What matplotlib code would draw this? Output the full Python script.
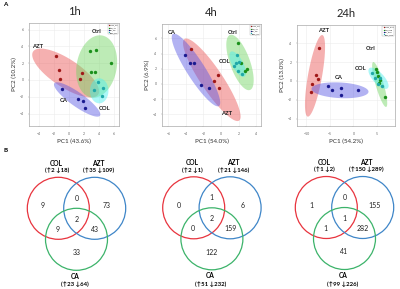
import numpy as np
import matplotlib
matplotlib.use("Agg")
import matplotlib.pyplot as plt

plt.rcParams['font.family'] = ['Lato', 'DejaVu Sans']

W, H = 400, 289

# ---- PCA scores ----
azt_1h = [(-1.73, 2.89), (-1.37, 1.19), (-1.2, 0.15), (1.73, 0.87), (1.43, 0.08)]
ctrl_1h = [(2.8, 3.42), (3.6, 3.57), (5.64, 2.06), (2.97, 0.95), (3.43, 0.95)]
ca_1h = [(-0.97, -1.11), (1.16, -2.26), (1.87, -2.46), (2.13, -3.37)]
col_1h = [(3.83, -0.27), (4.49, -0.95), (4.44, -1.94), (3.29, -1.15)]

azt_4h = [(-3.43, 4.57), (-0.34, 1.18), (-0.77, 0.36), (-0.26, -0.57)]
ctrl_4h = [(1.91, 5.33), (2.29, 2.79), (2.69, 1.67), (2.95, 1.91)]
ca_4h = [(-4.11, 3.82), (-3.58, 2.72), (-3.09, 2.80), (-2.29, -0.13), (-1.34, -0.49)]
col_4h = [(1.86, 3.79), (1.71, 2.79), (1.52, 2.33), (1.94, 1.74), (2.37, 1.32), (2.06, 2.83)]

azt_24h = [(-7.28, 3.48), (-7.91, 0.61), (-7.62, 0.21), (-8.83, -0.32), (-8.94, -1.15)]
ctrl_24h = [(4.72, 1.31), (5.06, 0.94), (5.28, 0.5), (5.57, 0.14), (5.43, -0.24), (6.6, -1.68)]
ca_24h = [(-5.49, -0.55), (-4.64, -1.01), (-2.72, -0.77), (-2.72, -1.49), (0.96, -0.98)]
col_24h = [(3.87, 0.85), (5.11, -0.27), (6.17, -0.53), (5.64, 0.37), (4.47, 0.32)]

# confidence ellipses: centre x, centre y, major half-vector, minor half-vector
ell_azt_1h = (-0.44, 0.83, 4.34, -2.56, -1.03, -1.39)
ell_ctrl_1h = (3.69, 1.61, 0.73, 3.69, 2.63, -0.42)
ell_ca_1h = (1.09, -2.32, 3.04, -1.93, -0.54, -0.68)
ell_col_1h = (4.03, -1.29, 0.0, 1.49, 1.23, 0.0)

ell_azt_4h = (-1.05, 0.55, 3.12, -5.37, -1.04, -0.81)
ell_ctrl_4h = (2.17, 2.83, 1.14, -3.62, -1.07, -0.45)
ell_ca_4h = (-2.86, 1.84, 2.63, -4.74, -0.87, -0.64)
ell_col_4h = (1.91, 2.61, 0.77, -1.64, -0.55, -0.34)

ell_azt_24h = (-8.19, 0.55, 1.55, 4.34, 1.47, -0.13)
ell_ctrl_24h = (5.57, -0.37, 1.38, -2.39, -0.82, -0.12)
ell_ca_24h = (-2.87, -0.99, 6.06, -0.16, -0.09, -0.83)
ell_col_24h = (5.32, 0.29, 1.96, -1.06, -0.86, -0.40)

times = ["1h", "4h", "24h"]
pc1_var = [43.6, 54.0, 54.2]
pc2_var = [10.2, 6.9, 13.0]

groups = ["AZT", "Ctrl", "CA", "COL"]
point_colors = {"AZT": "#a01818", "Ctrl": "#1a901a", "CA": "#1a1a90", "COL": "#20a8a8"}
fill_colors = {"AZT": "#ea5050", "Ctrl": "#6ed45e", "CA": "#5454e4", "COL": "#48eeee"}

# ---- Venn counts: only COL, COL&AZT, only AZT, all, COL&CA, AZT&CA, only CA ----
venn_1h = [9, 0, 73, 2, 9, 43, 33]
venn_4h = [0, 1, 6, 2, 0, 159, 122]
venn_24h = [1, 0, 155, 1, 1, 282, 41]
col_up, col_down = [2, 2, 1], [18, 1, 2]
azt_up, azt_down = [35, 21, 150], [109, 146, 289]
ca_up, ca_down = [23, 51, 99], [64, 232, 226]


def px_axes(fig, x0, y0, x1, y1):
    return fig.add_axes([x0 / W, 1 - y1 / H, (x1 - x0) / W, (y1 - y0) / H])


fig = plt.figure(figsize=(4.0, 2.89), dpi=100)

# ---------------- panel A ----------------
pca_boxes = [(29, 23, 119, 126), (162, 24, 261, 126), (297, 25, 395, 126)]
pca_lims = [((-5.33, 6.67), (-5.48, 6.79)),
            ((-6.74, 4.57), (-5.53, 7.89)),
            ((-12.02, 8.83), (-4.79, 5.96))]
pca_xticks = [[-4, -2, 0, 2, 4, 6], [-6, -4, -2, 0, 2, 4], [-10, -5, 0, 5]]
pca_yticks = [[-4, -2, 0, 2, 4, 6], [-4, -2, 0, 2, 4, 6], [-4, -2, 0, 2, 4]]
pca_scores = [
    {"AZT": azt_1h, "Ctrl": ctrl_1h, "CA": ca_1h, "COL": col_1h},
    {"AZT": azt_4h, "Ctrl": ctrl_4h, "CA": ca_4h, "COL": col_4h},
    {"AZT": azt_24h, "Ctrl": ctrl_24h, "CA": ca_24h, "COL": col_24h},
]
pca_ells = [
    {"AZT": ell_azt_1h, "Ctrl": ell_ctrl_1h, "CA": ell_ca_1h, "COL": ell_col_1h},
    {"AZT": ell_azt_4h, "Ctrl": ell_ctrl_4h, "CA": ell_ca_4h, "COL": ell_col_4h},
    {"AZT": ell_azt_24h, "Ctrl": ell_ctrl_24h, "CA": ell_ca_24h, "COL": ell_col_24h},
]
# where the group names sit
pca_names = [
    {"AZT": (-4.23, 4.05), "Ctrl": (3.69, 5.75), "CA": (-0.63, -2.5), "COL": (4.8, -3.37)},
    {"AZT": (0.65, -3.86), "Ctrl": (1.34, 6.8), "CA": (-5.63, 6.8), "COL": (0.38, 2.93)},
    {"AZT": (-6.43, 5.35), "Ctrl": (3.72, 3.44), "CA": (-3.09, 0.39), "COL": (1.53, 1.31)},
]

t = np.linspace(0, 2 * np.pi, 200)
for i, tm in enumerate(times):
    ax = px_axes(fig, *pca_boxes[i])
    for g in groups:
        cx, cy, ux, uy, vx, vy = pca_ells[i][g]
        ax.fill(cx + ux * np.cos(t) + vx * np.sin(t),
                cy + uy * np.cos(t) + vy * np.sin(t),
                color=fill_colors[g], alpha=0.45, lw=0, zorder=2)
    for g in groups:
        pts = np.array(pca_scores[i][g])
        ax.scatter(pts[:, 0], pts[:, 1], s=6, color=point_colors[g],
                   lw=0, zorder=4, label=g + "_" + tm)
        nx, ny = pca_names[i][g]
        ax.text(nx, ny, g, fontsize=4.2, fontweight="bold", ha="center",
                va="center", color="#222222", zorder=5)
    ax.set_xlim(*pca_lims[i][0])
    ax.set_ylim(*pca_lims[i][1])
    ax.set_xticks(pca_xticks[i])
    ax.set_yticks(pca_yticks[i])
    ax.tick_params(labelsize=2.5, labelcolor="#666666", length=1,
                   width=0.3, color="#999999", pad=3)
    ax.grid(True, color="#ececec", lw=0.4)
    ax.set_axisbelow(True)
    for s in ax.spines.values():
        s.set_color("#aaaaaa")
        s.set_linewidth(0.5)
    ax.set_xlabel("PC1 (%.1f%%)" % pc1_var[i], fontsize=4.5, labelpad=2, color="#333333")
    ax.set_ylabel("PC2 (%.1f%%)" % pc2_var[i], fontsize=4.5, labelpad=2, color="#333333")
    ax.set_title(tm, fontsize=8, pad=6, color="#222222")
    leg = ax.legend(loc="upper right", fontsize=1.5, markerscale=0.4,
                    handlelength=0.6, handletextpad=0.3, borderpad=0.3,
                    labelspacing=0.2, frameon=True, borderaxespad=0.3)
    leg.get_frame().set_linewidth(0.3)
    leg.get_frame().set_edgecolor("#999999")

fig.text(3 / W, 1 - 5 / H, "A", fontsize=4.5, fontweight="bold", va="center")
fig.text(3 / W, 1 - 151 / H, "B", fontsize=4.5, fontweight="bold", va="center")

# ---------------- panel B ----------------
venn_counts = [venn_1h, venn_4h, venn_24h]
venn_centres = [(76.5, 208.3), (211.9, 207.8), (344.5, 207.5)]
r_px = 31
circ_xy = [(-0.587, 0.0), (0.587, 0.0), (0.0, -1.0)]
circ_col = ["#e8343e", "#3f86c8", "#3cb36a"]
region_xy = [(-1.08, 0.08), (0.0, 0.33), (0.98, 0.08), (0.0, -0.36),
             (-0.6, -0.68), (0.6, -0.68), (0.0, -1.43)]

for i in range(3):
    cxp, cyp = venn_centres[i]
    ax = px_axes(fig, cxp - 2.1 * r_px, 140, cxp + 2.1 * r_px, H)
    ax.set_xlim(-2.1, 2.1)
    ax.set_ylim((cyp - H) / r_px, (cyp - 140) / r_px)
    ax.axis("off")
    for (x, y), c in zip(circ_xy, circ_col):
        ax.add_patch(plt.Circle((x, y), 1.0, fill=False, color=c, lw=0.9))
    for (x, y), n in zip(region_xy, venn_counts[i]):
        ax.text(x, y, str(n), fontsize=5, ha="center", va="center", color="#222222")
    ax.text(-0.64, 1.46, "COL", fontsize=4.8, fontweight="bold", ha="center", va="center")
    ax.text(-0.64, 1.23, "(\u2191%d \u2193%d)" % (col_up[i], col_down[i]),
            fontsize=4.3, fontweight="bold", ha="center", va="center")
    ax.text(0.7, 1.46, "AZT", fontsize=4.8, fontweight="bold", ha="center", va="center")
    ax.text(0.7, 1.23, "(\u2191%d \u2193%d)" % (azt_up[i], azt_down[i]),
            fontsize=4.3, fontweight="bold", ha="center", va="center")
    ax.text(-0.05, -2.2, "CA", fontsize=4.8, fontweight="bold", ha="center", va="center")
    ax.text(-0.05, -2.46, "(\u2191%d \u2193%d)" % (ca_up[i], ca_down[i]),
            fontsize=4.3, fontweight="bold", ha="center", va="center")

fig.savefig("out.png", dpi=100)
